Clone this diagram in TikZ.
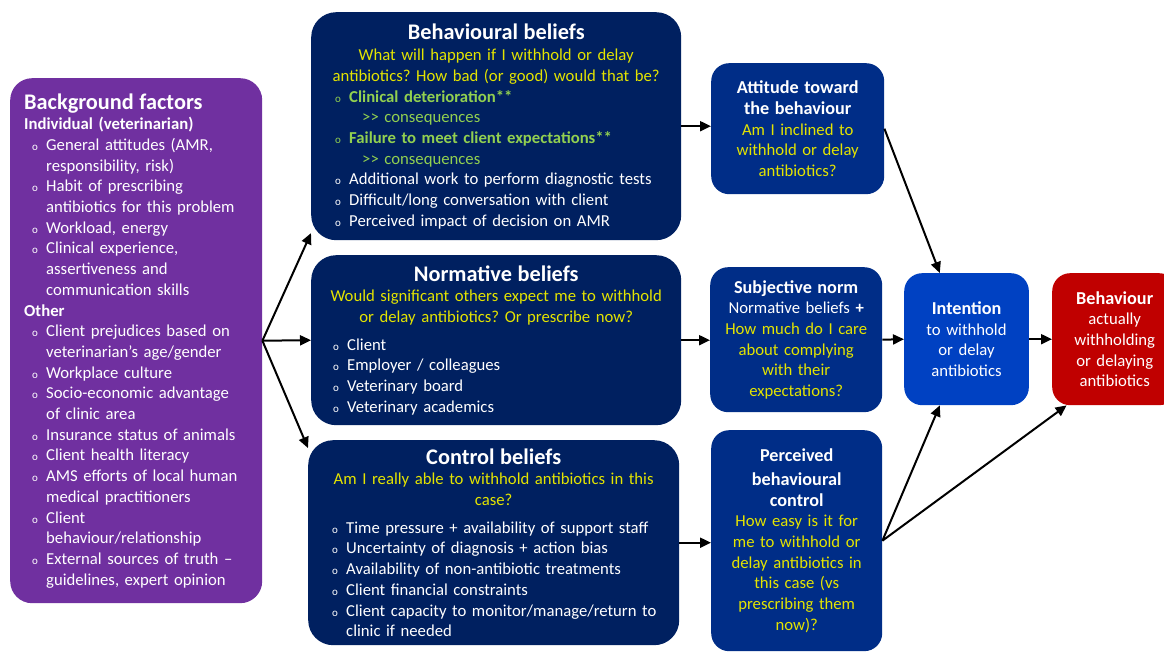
\documentclass[tikz,border=0pt]{standalone}
\usepackage{fontspec}
\setmainfont{Carlito}
\usepackage[dvipsnames]{xcolor}
\usetikzlibrary{arrows.meta}

\definecolor{bgpurple}{RGB}{112,48,160}
\definecolor{beliefnavy}{RGB}{0,32,96}
\definecolor{constructblue}{RGB}{0,45,135}
\definecolor{intentblue}{RGB}{0,65,194}
\definecolor{actred}{RGB}{192,0,0}
\definecolor{qyellow}{RGB}{228,228,0}
\definecolor{kgreen}{RGB}{146,208,80}

\newcommand{\titlefont}{\fontsize{22.3}{25}\selectfont\bfseries}
\newcommand{\headfont}{\fontsize{18.2}{24}\selectfont\bfseries}
\newcommand{\bulmark}{\fontsize{11}{11}\selectfont o}
% bullet line, optional arg = space before the bullet
\newcommand{\bul}[2][4pt]{\par\hangindent=\dimexpr#1+14pt\relax\hangafter=1\noindent\hspace*{#1}\makebox[14pt][l]{\bulmark}#2\par}
\newcommand{\conseq}{\par\noindent\hspace*{35pt}>\kern0pt> consequences\par}

\begin{document}
\frenchspacing
\begin{tikzpicture}[x=1pt,y=-1pt,>={Triangle[length=11pt,width=10pt]},
    box/.style={anchor=north west,inner ysep=0pt,text=white,font=\fontsize{16.7}{20.7}\selectfont\frenchspacing},
    belief box/.style={box,rounded corners=25pt,fill=beliefnavy,align=left},
    construct box/.style={box,rounded corners=18pt,fill=constructblue,align=center},
    link/.style={->,line width=2pt}]
    \useasboundingbox (0,0) rectangle (1164,652);
    \clip (0,0) rectangle (1164,652);

    \node[box,rounded corners=22pt,fill=bgpurple,align=left,minimum width=252pt,minimum height=525pt,
          text width=224pt,inner xsep=14pt] (bg) at (10,78) {%
        {\titlefont Background factors}\par
        {\bfseries Individual (veterinarian)}
        \bul[8pt]{General attitudes (AMR,\newline responsibility, risk)}
        \bul[8pt]{Habit of prescribing\newline antibiotics for this problem}
        \bul[8pt]{Workload, energy}
        \bul[8pt]{Clinical experience,\newline assertiveness and\newline communication skills}
        \par{\bfseries Other}
        \bul[8pt]{Client prejudices based on\newline veterinarian’s age/gender}
        \bul[8pt]{Workplace culture}
        \bul[8pt]{Socio-economic advantage\newline of clinic area}
        \bul[8pt]{Insurance status of animals}
        \bul[8pt]{Client health literacy}
        \bul[8pt]{AMS efforts of local human\newline medical practitioners}
        \bul[8pt]{Client\newline behaviour/relationship}
        \bul[8pt]{External sources of truth –\newline guidelines, expert opinion}};

    \node[belief box,minimum width=370pt,minimum height=228pt,text width=338pt,inner xsep=16pt] (beh) at (311,12) {%
        {\centering{\titlefont Behavioural beliefs}\par\vspace{1pt}
        \color{qyellow}What will happen if I withhold or delay\\antibiotics? How bad (or good) would that be?\par}
        \color{kgreen}
        \bul[8pt]{\textbf{Clinical deterioration**}}
        \conseq
        \bul[8pt]{\textbf{Failure to meet client expectations**}}
        \conseq
        \color{white}
        \bul[8pt]{Additional work to perform diagnostic tests}
        \bul[8pt]{Difficult/long conversation with client}
        \bul[8pt]{Perceived impact of decision on AMR}};

    \node[belief box,minimum width=370pt,minimum height=170pt,text width=342pt,inner xsep=14pt] (nrm) at (311,255) {%
        {\centering{\titlefont Normative beliefs}\par
        \color{qyellow}Would significant others expect me to withhold\\or delay antibiotics? Or prescribe now?\par}
        \vspace{7pt}
        \bul[8pt]{Client}
        \bul[8pt]{Employer / colleagues}
        \bul[8pt]{Veterinary board}
        \bul[8pt]{Veterinary academics}};

    \node[belief box,minimum width=371pt,minimum height=205pt,text width=343pt,inner xsep=14pt] (ctl) at (308,440) {%
        {\centering{\titlefont Control beliefs}\par
        \color{qyellow}Am I really able to withhold antibiotics in this\\case?\par}
        \vspace{7pt}
        \bul[10pt]{Time pressure + availability of support staff}
        \bul[10pt]{Uncertainty of diagnosis + action bias}
        \bul[10pt]{Availability of non-antibiotic treatments}
        \bul[10pt]{Client financial constraints}
        \bul[10pt]{Client capacity to monitor/manage/return to\newline clinic if needed}};

    \node[construct box,minimum width=173pt,minimum height=131pt,text width=164pt] (att) at (711,63) {%
        {\headfont Attitude toward\\the behaviour}\par
        {\color{qyellow}Am I inclined to\\withhold or delay\\antibiotics?}};

    \node[construct box,minimum width=172pt,minimum height=145pt,text width=164pt] (sub) at (710,267) {%
        {\headfont Subjective norm}\par
        Normative beliefs \textbf{+}\par
        {\color{qyellow}How much do I care\\about complying\\with their\\expectations?}};

    \node[construct box,minimum width=171pt,minimum height=221pt,text width=164pt] (per) at (711,430) {%
        {\headfont Perceived\\behavioural\\control}\par
        {\color{qyellow}How easy is it for\\me to withhold or\\delay antibiotics in\\this case (vs\\prescribing them\\now)?}};

    \node[box,rounded corners=18pt,fill=intentblue,align=center,minimum width=123pt,minimum height=132pt,text width=118pt] (int) at (904,273) {%
        {\headfont Intention}\par
        to withhold\\or delay\\antibiotics};

    \node[box,rounded corners=18pt,fill=actred,align=center,minimum width=125pt,minimum height=132pt,text width=118pt] (bhv) at (1052,273) {%
        {\headfont Behaviour}\par
        actually\\withholding\\or delaying\\antibiotics};

    \path[link]
        (bg.east) edge (beh.210)
        (bg.east) edge (nrm.west)
        (bg.east) edge (ctl.153)
        (beh.east) edge (beh.east -| att.west)
        (nrm.east) edge (nrm.east -| sub.west)
        (ctl.east) edge (ctl.east -| per.west)
        (att.east) edge (int.112)
        (sub.east) edge (int.west)
        (per.east) edge (int.248)
        (per.east) edge (bhv.234)
        (int.east) edge (bhv.west)
        ;
\end{tikzpicture}
\end{document}
